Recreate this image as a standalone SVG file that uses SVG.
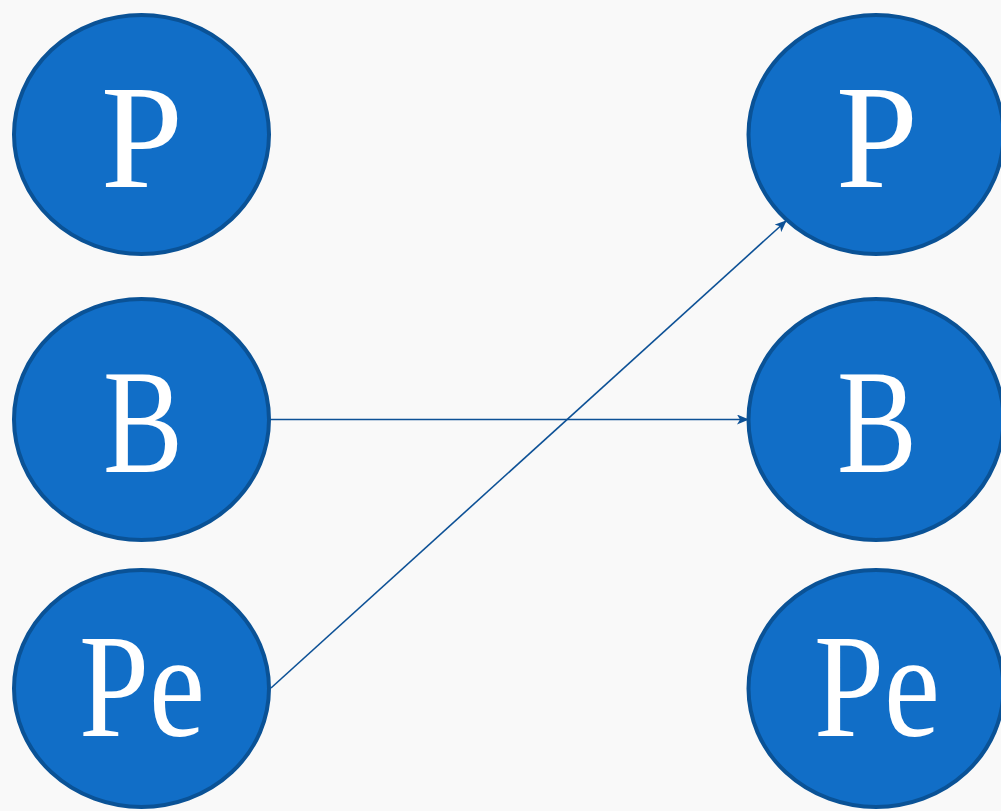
<svg xmlns="http://www.w3.org/2000/svg" width="1001" height="811" viewBox="0 0 1001 811">
<style>
.n{fill:#116ec7;stroke:#0a5296;stroke-width:4}
.t{fill:#fff;font-family:"Liberation Serif","DejaVu Serif",serif;font-size:148px;text-anchor:middle}
.c{stroke:#0d5196;stroke-width:1.6;fill:none;marker-end:url(#a)}
</style>
<defs>
<marker id="a" viewBox="0 0 12 10" refX="11" refY="5" markerWidth="12" markerHeight="10" markerUnits="userSpaceOnUse" orient="auto">
<path d="M0,0 L12,5 L0,10 L3,5 Z" fill="#0d5196"/>
</marker>
</defs>
<rect width="1001" height="811" fill="#f9f9f9"/>
<g id="connectors">
<line class="c" x1="271" y1="419.5" x2="748" y2="419.5"/>
<line class="c" x1="271" y1="688" x2="786" y2="221"/>
</g>
<g id="p-left"><ellipse class="n" cx="141.5" cy="134.5" rx="127.5" ry="119.5"/><text class="t" x="142" y="187">P</text></g>
<g id="b-left"><ellipse class="n" cx="141.5" cy="419.5" rx="127.5" ry="120.5"/><text class="t" x="143" y="472" textLength="80" lengthAdjust="spacingAndGlyphs">B</text></g>
<g id="pe-left"><ellipse class="n" cx="141.5" cy="688.5" rx="127.5" ry="118.5"/><text class="t" x="142" y="736" textLength="126" lengthAdjust="spacingAndGlyphs">Pe</text></g>
<g id="p-right"><ellipse class="n" cx="876" cy="134.5" rx="127.5" ry="119.5"/><text class="t" x="877" y="187">P</text></g>
<g id="b-right"><ellipse class="n" cx="876" cy="419.5" rx="127.5" ry="120.5"/><text class="t" x="877" y="472" textLength="80" lengthAdjust="spacingAndGlyphs">B</text></g>
<g id="pe-right"><ellipse class="n" cx="876" cy="688.5" rx="127.5" ry="118.5"/><text class="t" x="877" y="736" textLength="126" lengthAdjust="spacingAndGlyphs">Pe</text></g>
</svg>
